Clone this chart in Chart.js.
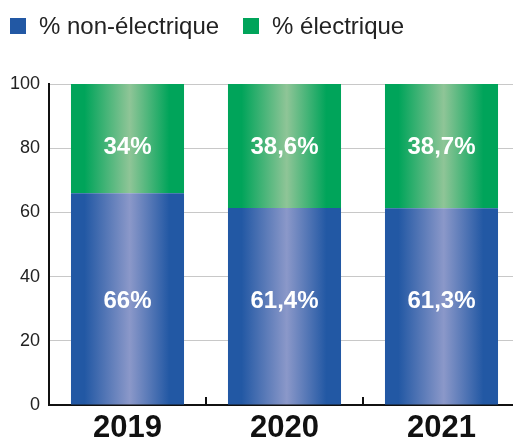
<!DOCTYPE html>
<html>
<head>
<meta charset="utf-8">
<script src="https://cdn.jsdelivr.net/npm/chart.js@4.4.1/dist/chart.umd.min.js"></script>
<style>
  body { margin: 0; background: #fff; font-family: "Liberation Sans", Arial, sans-serif; }
  #wrap { position: relative; width: 513px; height: 439px; overflow: hidden; }
  #chart { display: block; }
  #legend { position: absolute; left: 10px; top: 12px; display: flex; align-items: center; font-size: 24px; color: #222; }
  #legend .box { width: 16px; height: 16px; margin-right: 13px; }
  #legend .item { display: flex; align-items: center; margin-right: 24px; }
</style>
</head>
<body>
<div id="wrap">
  <div id="legend"></div>
  <canvas id="chart" width="520" height="439"></canvas>
</div>
<script>
// Data
const years = ['2019', '2020', '2021'];
const nonElec = [66, 61.4, 61.3];
const elec = [34, 38.6, 38.7];
const seriesNames = ['% non-électrique', '% électrique'];
// value at which the labels of each series sit
const labelAt = [32.4, 80.4];

// Colours (edge, centre)
const blue = ['#2258a4', '#8b98c9'];
const green = ['#00a45a', '#8fc597'];

// Legend (html)
const legendEl = document.getElementById('legend');
[[seriesNames[0], blue[0]], [seriesNames[1], green[0]]].forEach(([name, col]) => {
    const item = document.createElement('div');
    item.className = 'item';
    item.innerHTML = `<span class="box" style="background:${col}"></span><span>${name}</span>`;
    legendEl.appendChild(item);
});

function barGradient(cols) {
    return (ctx) => {
        const chart = ctx.chart;
        const xs = chart.scales.x;
        if (!xs || !chart.chartArea) return cols[0];
        const cx = xs.getPixelForValue(ctx.dataIndex);
        const w = (xs.width / years.length) * 0.72;
        const x0 = cx - w / 2;
        const g = chart.ctx.createLinearGradient(x0, 0, x0 + w, 0);
        g.addColorStop(0, cols[0]);
        g.addColorStop(0.12, cols[0]);
        g.addColorStop(0.52, cols[1]);
        g.addColorStop(0.87, cols[0]);
        g.addColorStop(1, cols[0]);
        return g;
    };
}

const fmt = v => String(v).replace('.', ',') + '%';

// labels inside bars
const barLabels = {
    id: 'barLabels',
    afterDatasetsDraw(chart) {
        const c = chart.ctx;
        const ys = chart.scales.y;
        c.save();
        c.fillStyle = '#fff';
        c.font = 'bold 24px "Liberation Sans", Arial, sans-serif';
        c.textAlign = 'center';
        c.textBaseline = 'middle';
        chart.data.datasets.forEach((ds, di) => {
            chart.getDatasetMeta(di).data.forEach((bar, i) => {
                c.fillText(fmt(ds.data[i]), bar.x, ys.getPixelForValue(labelAt[di]));
            });
        });
        c.restore();
    }
};

// small tick marks between categories, pointing up
const innerTicks = {
    id: 'innerTicks',
    afterDraw(chart) {
        const c = chart.ctx;
        const xs = chart.scales.x;
        const yb = chart.chartArea.bottom;
        c.save();
        c.strokeStyle = '#111';
        c.lineWidth = 2;
        for (let i = 0; i < years.length - 1; i++) {
            const x = Math.round((xs.getPixelForValue(i) + xs.getPixelForValue(i + 1)) / 2);
            c.beginPath();
            c.moveTo(x, yb);
            c.lineTo(x, yb - 8);
            c.stroke();
        }
        c.restore();
    }
};

new Chart(document.getElementById('chart'), {
    type: 'bar',
    data: {
        labels: years,
        datasets: [
            { label: seriesNames[0], data: nonElec, backgroundColor: barGradient(blue), borderWidth: 0 },
            { label: seriesNames[1], data: elec, backgroundColor: barGradient(green), borderWidth: 0 }
        ]
    },
    options: {
        responsive: false,
        animation: false,
        layout: { padding: { top: 84, right: 0, left: 0, bottom: 0 } },
        datasets: { bar: { categoryPercentage: 1, barPercentage: 0.72 } },
        plugins: { legend: { display: false }, tooltip: { enabled: false } },
        scales: {
            x: {
                stacked: true,
                grid: { display: false },
                border: { color: '#111', width: 2 },
                ticks: {
                    color: '#111',
                    padding: 0,
                    font: { family: '"Liberation Sans", Arial, sans-serif', size: 31, weight: 'bold', lineHeight: 1 }
                },
                afterFit(s) { s.height = 34; }
            },
            y: {
                stacked: true,
                min: 0,
                max: 100,
                grid: { color: '#c8c8c8', lineWidth: 1, drawTicks: false },
                border: { color: '#111', width: 2 },
                ticks: {
                    stepSize: 20,
                    color: '#222',
                    padding: 9,
                    font: { family: '"Liberation Sans", Arial, sans-serif', size: 18 }
                },
                afterFit(s) { s.width = 49; }
            }
        }
    },
    plugins: [barLabels, innerTicks]
});
</script>
</body>
</html>
